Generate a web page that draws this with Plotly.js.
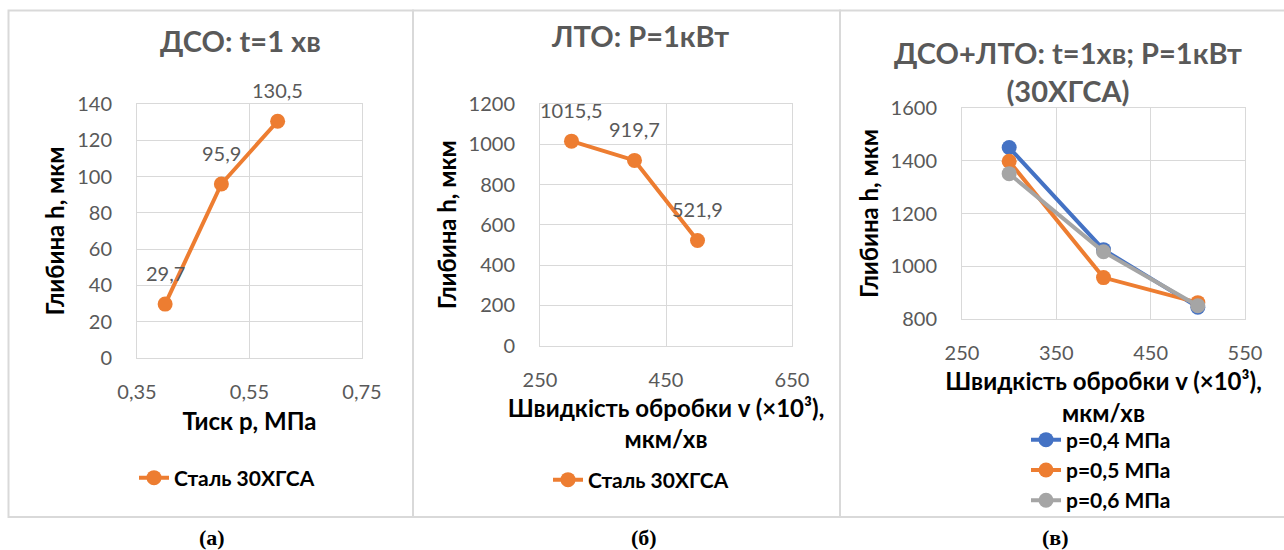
<!DOCTYPE html>
<html>
<head>
<meta charset="utf-8">
<script src="https://cdn.plot.ly/plotly-3.0.1.min.js"></script>
<style>
html,body{margin:0;padding:0;background:#fff;}
#chart{width:1284px;height:550px;}
</style>
</head>
<body>
<div id="chart"></div>
<script>
// ---- data ----
const pressureA = [0.4, 0.5, 0.6];          // МПа
const depthA = [29.7, 95.9, 130.5];         // мкм
const speedB = [300, 400, 500];             // ×10³ мкм/хв
const depthB = [1015.5, 919.7, 521.9];
const speedC = [300, 400, 500];
const depthC04 = [1450, 1063, 845];
const depthC05 = [1398, 957, 862];
const depthC06 = [1351, 1055, 850];
const seriesNameA = 'Сталь 30ХГСА';
const seriesNamesC = ['p=0,4 МПа', 'p=0,5 МПа', 'p=0,6 МПа'];
const titles = ['ДСО: t=1 хв', 'ЛТО: P=1кВт', 'ДСО+ЛТО: t=1хв; P=1кВт<br>(30ХГСА)'];
const panelLabels = ['(а)', '(б)', '(в)'];

// ---- helpers ----
const W = 1284, H = 550;
const px = v => v / W;
const py = v => 1 - v / H;
const FONT = 'Lato, "Open Sans", sans-serif';
const ORANGE = '#ED7D31', BLUE = '#4472C4', GRAY = '#A5A5A5';
const fmt = v => v.toFixed(1).replace('.', ',');

function axisBase(extra) {
  return Object.assign({
    showgrid: true, gridcolor: '#d9d9d9', gridwidth: 1,
    showline: true, linecolor: '#d9d9d9', linewidth: 1, mirror: true,
    zeroline: false, ticks: '', fixedrange: true,
    tickfont: {family: FONT, size: 20, color: '#595959'}
  }, extra);
}
const axTitleFont = {family: FONT, size: 24, color: '#000', weight: 'bold'};

function lineTrace(x, y, name, color, xa, ya, leg) {
  return {
    x: x, y: y, name: name, type: 'scatter', mode: 'lines+markers',
    line: {color: color, width: 4},
    marker: {color: color, size: 15},
    xaxis: xa, yaxis: ya, legend: leg, hoverinfo: 'skip'
  };
}

const traces = [
  lineTrace(pressureA, depthA, seriesNameA, ORANGE, 'x', 'y', 'legend'),
  lineTrace(speedB, depthB, seriesNameA, ORANGE, 'x2', 'y2', 'legend2'),
  lineTrace(speedC, depthC04, seriesNamesC[0], BLUE, 'x3', 'y3', 'legend3'),
  lineTrace(speedC, depthC05, seriesNamesC[1], ORANGE, 'x3', 'y3', 'legend3'),
  lineTrace(speedC, depthC06, seriesNamesC[2], GRAY, 'x3', 'y3', 'legend3')
];

const annotations = [];
// data labels
pressureA.forEach((x, i) => annotations.push({
  x: x, y: depthA[i], xref: 'x', yref: 'y', text: fmt(depthA[i]), showarrow: false,
  yshift: 31, font: {family: FONT, size: 20, color: '#595959'}
}));
speedB.forEach((x, i) => annotations.push({
  x: x, y: depthB[i], xref: 'x2', yref: 'y2', text: fmt(depthB[i]), showarrow: false,
  yshift: 31, font: {family: FONT, size: 20, color: '#595959'}
}));
// panel titles
const titlePos = [[240, 40], [640, 36], [1068, 71]];
titles.forEach((t, i) => annotations.push({
  x: px(titlePos[i][0]), y: py(titlePos[i][1]), xref: 'paper', yref: 'paper',
  text: t, showarrow: false, xanchor: 'center', yanchor: 'middle',
  font: {family: FONT, size: 29, color: '#595959', weight: 'bold'}
}));
// panel labels
const labelX = [212, 644, 1055];
panelLabels.forEach((t, i) => annotations.push({
  x: px(labelX[i]), y: py(537), xref: 'paper', yref: 'paper', text: t,
  showarrow: false, xanchor: 'center', yanchor: 'middle',
  font: {family: '"Liberation Serif", serif', size: 22, color: '#000', weight: 'bold'}
}));

const boxStyle = {color: '#d9d9d9', width: 2};
const shapes = [
  {type: 'rect', xref: 'paper', yref: 'paper', x0: px(8.5), x1: px(413), y0: py(517), y1: py(10.5), line: boxStyle, layer: 'below'},
  {type: 'rect', xref: 'paper', yref: 'paper', x0: px(413), x1: px(840), y0: py(517), y1: py(10.5), line: boxStyle, layer: 'below'},
  {type: 'rect', xref: 'paper', yref: 'paper', x0: px(840), x1: px(1295), y0: py(517), y1: py(10.5), line: boxStyle, layer: 'below'}
];

const xTitleB = 'Швидкість обробки v (×10³),<br>мкм/хв';

const legendBase = {
  font: {family: FONT, size: 21, color: '#000', weight: 'bold'},
  bgcolor: 'rgba(0,0,0,0)', borderwidth: 0,
  xanchor: 'left', yanchor: 'middle', orientation: 'v', itemclick: false, itemdoubleclick: false
};

const layout = {
  width: W, height: H,
  margin: {l: 0, r: 0, t: 0, b: 0},
  paper_bgcolor: '#fff', plot_bgcolor: '#fff',
  separators: ', ',
  showlegend: true,
  xaxis: axisBase({domain: [px(137), px(362)], anchor: 'y', range: [0.35, 0.75], tick0: 0.35, dtick: 0.2,
    tickformat: '.2f', ticklabelstandoff: 16,
    title: {text: 'Тиск р, МПа', font: axTitleFont, standoff: 11}}),
  yaxis: axisBase({domain: [py(358), py(104)], anchor: 'x', range: [0, 140], dtick: 20, ticklabelstandoff: 20,
    title: {text: 'Глибина h, мкм', font: axTitleFont, standoff: 5}}),
  xaxis2: axisBase({domain: [px(540), px(792)], anchor: 'y2', range: [250, 650], tick0: 250, dtick: 200, ticklabelstandoff: 16,
    title: {text: xTitleB, font: axTitleFont, standoff: 10}}),
  yaxis2: axisBase({domain: [py(345.5), py(104)], anchor: 'x2', range: [0, 1200], dtick: 200, ticklabelstandoff: 20,
    title: {text: 'Глибина h, мкм', font: axTitleFont, standoff: 5}}),
  xaxis3: axisBase({domain: [px(962), px(1245)], anchor: 'y3', range: [250, 550], tick0: 250, dtick: 100, ticklabelstandoff: 16,
    title: {text: xTitleB, font: axTitleFont, standoff: 10}}),
  yaxis3: axisBase({domain: [py(319), py(108)], anchor: 'x3', range: [800, 1600], dtick: 200, ticklabelstandoff: 20,
    title: {text: 'Глибина h, мкм', font: axTitleFont, standoff: 5}}),
  legend: Object.assign({}, legendBase, {x: px(134), y: py(478)}),
  legend2: Object.assign({}, legendBase, {x: px(548), y: py(480)}),
  legend3: Object.assign({}, legendBase, {x: px(1026), y: py(470)}),
  annotations: annotations,
  shapes: shapes
};

Plotly.newPlot('chart', traces, layout, {displayModeBar: false, staticPlot: true});
</script>
</body>
</html>
